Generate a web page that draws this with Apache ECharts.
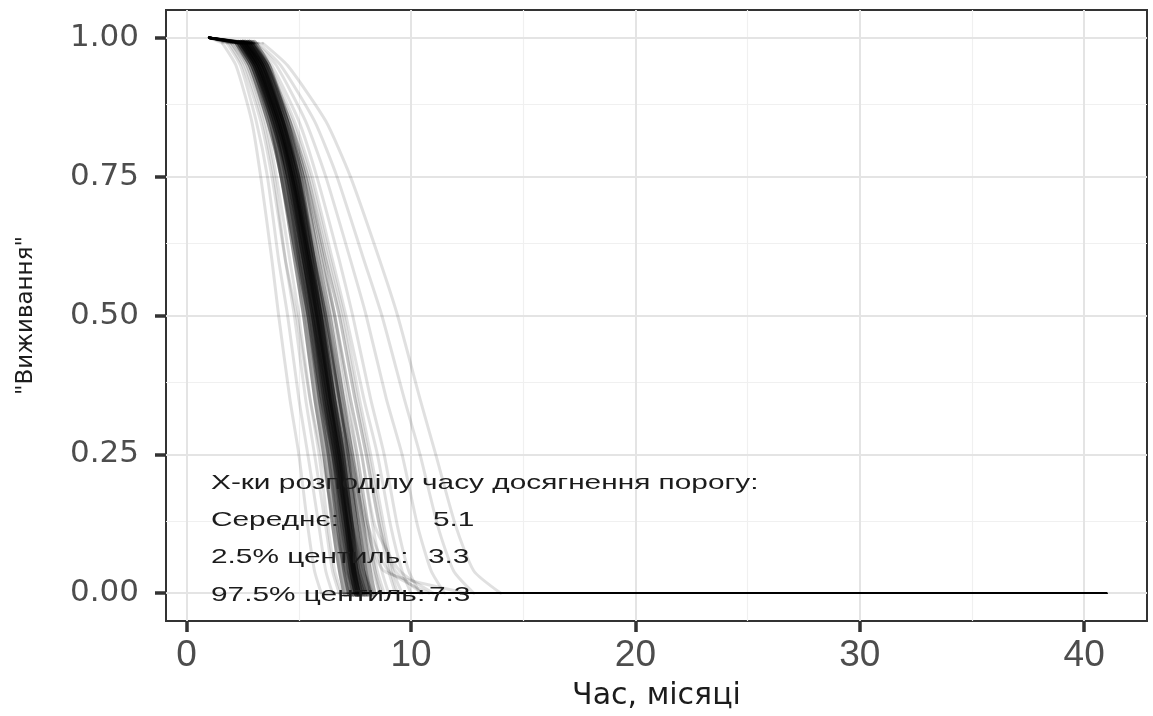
<!DOCTYPE html>
<html>
<head>
<meta charset="utf-8">
<script src="https://cdn.jsdelivr.net/npm/echarts@6/dist/echarts.min.js"></script>
<style>
  html, body { margin: 0; padding: 0; background: #ffffff; }
  #chart { width: 1153px; height: 716px; }
</style>
</head>
<body>
<div id="chart"></div>
<script>
// Survival levels; each simulated curve lists the month at which it reaches each level
const survivalLevels = [0.99, 0.95, 0.85, 0.75, 0.6, 0.5, 0.35, 0.25, 0.12, 0.04, 0];
const startTime = 1;   // every curve starts at survival 1 in month 1
const endTime = 41;    // and runs along 0 up to month 41

// Densely packed simulations (the dark centre of the bundle)
const coreCurves = [
  [2.4, 3.0, 3.8, 4.3, 4.9, 5.3, 5.8, 6.2, 6.6, 6.9, 7.1],
  [2.5, 3.1, 3.9, 4.5, 5.1, 5.5, 6.0, 6.4, 6.8, 7.1, 7.3],
  [2.6, 3.2, 4.0, 4.6, 5.2, 5.6, 6.1, 6.5, 6.9, 7.2, 7.4],
  [2.7, 3.3, 4.1, 4.7, 5.3, 5.7, 6.2, 6.6, 7.0, 7.3, 7.5],
  [2.8, 3.4, 4.2, 4.8, 5.4, 5.8, 6.3, 6.7, 7.1, 7.4, 7.6],
  [2.9, 3.5, 4.3, 4.9, 5.5, 5.9, 6.4, 6.8, 7.2, 7.5, 7.8],
  [3.0, 3.6, 4.4, 5.0, 5.6, 6.0, 6.5, 6.9, 7.3, 7.6, 7.9],
  [2.6, 3.3, 4.2, 4.8, 5.5, 5.9, 6.5, 6.9, 7.3, 7.5, 7.7],
  [2.5, 3.2, 4.1, 4.7, 5.4, 5.9, 6.5, 7.0, 7.5, 7.8, 8.0],
  [2.3, 2.9, 3.7, 4.3, 5.0, 5.5, 6.1, 6.6, 7.1, 7.4, 7.6],
  [2.8, 3.5, 4.4, 5.1, 5.8, 6.3, 6.9, 7.3, 7.8, 8.1, 8.3],
  [2.4, 3.0, 3.9, 4.6, 5.3, 5.8, 6.4, 6.8, 7.2, 7.4, 7.6],
  [2.7, 3.3, 4.2, 4.9, 5.6, 6.1, 6.7, 7.1, 7.5, 7.8, 8.1],
  [2.5, 3.1, 4.0, 4.6, 5.3, 5.7, 6.3, 6.7, 7.2, 7.5, 7.7]
];

// Sparser simulations that spread out either side of the centre
const outerCurves = [
  [1.6, 2.2, 2.9, 3.3, 3.8, 4.1, 4.6, 5.0, 5.4, 5.7, 6.0],
  [1.8, 2.4, 3.1, 3.6, 4.1, 4.5, 5.0, 5.4, 5.9, 6.2, 6.5],
  [2.0, 2.6, 3.4, 3.9, 4.4, 4.8, 5.3, 5.7, 6.2, 6.5, 6.8],
  [2.2, 2.7, 3.5, 4.0, 4.6, 5.0, 5.5, 5.9, 6.3, 6.6, 6.9],
  [2.1, 2.8, 3.6, 4.2, 4.8, 5.2, 5.7, 6.1, 6.5, 6.8, 7.0],
  [2.6, 3.3, 4.3, 5.0, 5.8, 6.3, 7.0, 7.5, 8.0, 8.4, 8.7],
  [2.7, 3.4, 4.4, 5.2, 6.0, 6.6, 7.3, 7.8, 8.3, 8.7, 9.0],
  [2.9, 3.6, 4.7, 5.5, 6.4, 7.0, 7.7, 8.2, 8.8, 9.2, 9.6],
  [3.0, 3.8, 5.0, 5.8, 6.8, 7.4, 8.2, 8.8, 9.4, 9.9, 10.4],
  [3.1, 4.0, 5.3, 6.2, 7.3, 8.0, 8.9, 9.6, 10.3, 10.9, 11.5],
  [3.2, 4.2, 5.7, 6.7, 7.9, 8.7, 9.7, 10.4, 11.2, 11.9, 12.8],
  [3.4, 4.5, 6.2, 7.3, 8.6, 9.4, 10.4, 11.1, 12.0, 12.8, 14.0],
  [2.8, 3.6, 4.6, 5.3, 6.1, 6.6, 7.3, 7.8, 8.4, 9.5, 11.0],
  [2.5, 3.2, 4.2, 4.9, 5.7, 6.2, 6.9, 7.4, 8.1, 9.0, 10.8],
  [2.4, 3.1, 4.0, 4.7, 5.5, 6.0, 6.7, 7.3, 8.0, 8.8, 12.5],
  [3.0, 3.7, 4.6, 5.3, 6.1, 6.6, 7.2, 7.6, 8.1, 8.4, 8.6],
  [2.3, 3.0, 3.9, 4.5, 5.2, 5.7, 6.3, 6.8, 7.4, 7.8, 8.1],
  [2.7, 3.5, 4.6, 5.4, 6.3, 6.9, 7.6, 8.1, 8.7, 9.1, 9.4],
  [2.2, 2.9, 3.8, 4.4, 5.1, 5.6, 6.3, 6.8, 7.4, 7.9, 8.3],
  [1.9, 2.5, 3.3, 3.8, 4.4, 4.9, 5.5, 6.0, 6.6, 7.1, 7.6],
  [2.9, 3.7, 4.8, 5.6, 6.5, 7.1, 7.9, 8.5, 9.1, 9.6, 10.0],
  [2.6, 3.4, 4.5, 5.3, 6.2, 6.8, 7.5, 8.0, 8.6, 9.0, 9.3],
  [2.3, 3.0, 4.0, 4.7, 5.5, 6.1, 6.8, 7.3, 7.9, 8.3, 8.6],
  [2.0, 2.7, 3.6, 4.3, 5.0, 5.5, 6.1, 6.6, 7.2, 7.6, 7.9],
  [2.8, 3.5, 4.5, 5.2, 6.0, 6.5, 7.1, 7.6, 8.1, 8.5, 8.8],
  [2.6, 3.3, 4.3, 5.0, 5.7, 6.2, 6.8, 7.2, 7.7, 8.0, 8.2],
  [2.9, 3.6, 4.6, 5.4, 6.2, 6.8, 7.5, 8.0, 8.6, 9.3, 10.5],
  [2.2, 2.8, 3.7, 4.2, 4.9, 5.3, 5.9, 6.3, 6.8, 7.0, 7.2],
  [2.4, 3.1, 4.1, 4.8, 5.6, 6.1, 6.8, 7.2, 7.7, 8.0, 8.2]
];

const xTicks = [0, 10, 20, 30, 40];
const xMinorGrid = [5, 15, 25, 35];
const yTicks = [0, 0.25, 0.5, 0.75, 1];
const yMinorGrid = [0.125, 0.375, 0.625, 0.875];

const statsTitle = 'Х-ки розподілу часу досягнення порогу:';
const statsLabels = ['Середнє:', '2.5% центиль:', '97.5% центиль:'];
const statsValues = ['5.1', '3.3', '7.3'];

// Each curve is split into the flat start at 1, the falling part, and the run along 0
function curveParts(times) {
  const fall = times.map((t, i) => [t, survivalLevels[i]]);
  const first = fall[0];
  const last = fall[fall.length - 1];
  return {
    head: [[startTime, 1], first],
    fall: fall,
    tail: [last, [endTime, 0]]
  };
}

const majorGrid = { color: '#e4e4e4', width: 2, type: 'solid' };
const minorGrid = { color: '#f0f0f0', width: 1.2, type: 'solid' };

// Panel grid lines, kept underneath the curves
const gridSeries = {
  type: 'line',
  data: [],
  silent: true,
  z: 1,
  markLine: {
    z: 1,
    silent: true,
    animation: false,
    symbol: ['none', 'none'],
    label: { show: false },
    emphasis: { disabled: true },
    data: [
      ...xMinorGrid.map(v => ({ xAxis: v, lineStyle: minorGrid })),
      ...yMinorGrid.map(v => ({ yAxis: v, lineStyle: minorGrid })),
      ...xTicks.map(v => ({ xAxis: v, lineStyle: majorGrid })),
      ...yTicks.map(v => ({ yAxis: v, lineStyle: majorGrid }))
    ]
  }
};

function lineSeries(points, width, alpha, smooth) {
  return {
    type: 'line',
    data: points,
    showSymbol: false,
    symbol: 'none',
    silent: true,
    smooth: smooth,
    clip: false,
    z: 3,
    lineStyle: { color: 'rgba(0,0,0,' + alpha + ')', width: width, join: 'round', cap: 'round' },
    emphasis: { disabled: true }
  };
}

const series = [gridSeries];
function addCurve(times, fallWidth, alpha) {
  const p = curveParts(times);
  series.push(lineSeries(p.head, 2.4, alpha, false));
  series.push(lineSeries(p.fall, fallWidth, alpha, 0.2));
  series.push(lineSeries(p.tail, 1.6, alpha, false));
}
outerCurves.forEach(c => addCurve(c, 3, 0.12));
coreCurves.forEach(c => addCurve(c, 7, 0.33));

const textColor = '#1c1c1c';
const statsFont = '21px "Liberation Sans"';
const stretch = 1.42;
const rowsY = [520, 557, 595];
const valueX = [433, 428, 429];

const graphics = [{
  type: 'text', x: 211, y: 483, z: 100, scaleX: stretch,
  style: { text: statsTitle, font: statsFont, fill: textColor, verticalAlign: 'middle' }
}];
statsLabels.forEach((label, i) => {
  graphics.push({
    type: 'text', x: 211, y: rowsY[i], z: 100, scaleX: stretch,
    style: { text: label, font: statsFont, fill: textColor, verticalAlign: 'middle' }
  });
  graphics.push({
    type: 'text', x: valueX[i], y: rowsY[i], z: 100, scaleX: stretch,
    style: { text: statsValues[i], font: statsFont, fill: textColor, verticalAlign: 'middle' }
  });
});

const chart = echarts.init(document.getElementById('chart'), null, { renderer: 'canvas' });
chart.setOption({
  animation: false,
  backgroundColor: '#ffffff',
  grid: {
    left: 166, right: 6, top: 10, bottom: 95,
    show: true, borderColor: '#333333', borderWidth: 2, backgroundColor: '#ffffff'
  },
  xAxis: {
    type: 'value',
    min: -0.92, max: 42.8,
    name: 'Час, місяці',
    nameLocation: 'middle',
    nameGap: 60,
    nameTextStyle: { fontFamily: 'DejaVu Sans', fontSize: 30, color: textColor },
    axisLine: { show: false, onZero: false },
    splitLine: { show: false },
    axisTick: { show: true, length: 11, lineStyle: { color: '#333333', width: 3.5 }, customValues: xTicks },
    axisLabel: {
      customValues: xTicks,
      margin: 16,
      fontFamily: 'Liberation Sans', fontSize: 37, color: '#4d4d4d'
    }
  },
  yAxis: {
    type: 'value',
    min: -0.05, max: 1.05,
    name: '"Виживання"',
    nameLocation: 'middle',
    nameGap: 128,
    nameRotate: 90,
    nameTextStyle: { fontFamily: 'DejaVu Sans', fontSize: 23, color: textColor },
    axisLine: { show: false, onZero: false },
    splitLine: { show: false },
    axisTick: { show: true, length: 11, lineStyle: { color: '#333333', width: 3.5 }, customValues: yTicks },
    axisLabel: {
      customValues: yTicks,
      margin: 27,
      fontFamily: 'DejaVu Sans', fontSize: 31, color: '#4d4d4d',
      formatter: v => v.toFixed(2)
    }
  },
  series: series,
  graphic: graphics
});
</script>
</body>
</html>
